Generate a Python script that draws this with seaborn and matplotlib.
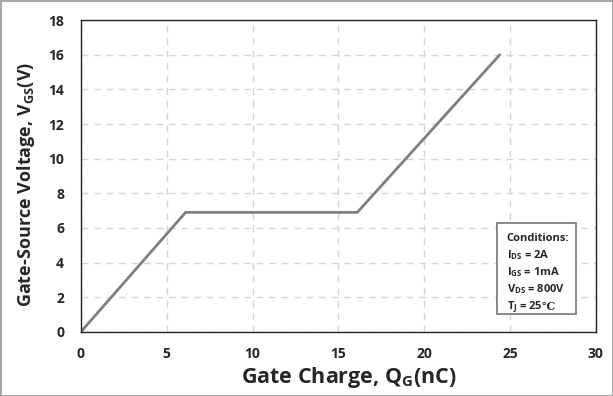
import matplotlib
matplotlib.use('Agg')
import matplotlib.pyplot as plt
from matplotlib.patches import Rectangle
import seaborn as sns
import pandas as pd

# Gate charge curve
gate_charge = [0.0, 6.1, 16.1, 24.4]
gate_voltage = [0.0, 6.9, 6.9, 16.0]
x_ticks = [0, 5, 10, 15, 20, 25, 30]
y_ticks = [0, 2, 4, 6, 8, 10, 12, 14, 16, 18]
conditions = ['Conditions:', 'I$_{\\mathrm{DS}}$ = 2A', 'I$_{\\mathrm{GS}}$ = 1mA',
              'V$_{\\mathrm{DS}}$ = 800V', 'T$_{\\mathrm{J}}$ = 25']
degree_sign = '\u2103'

sns.set_style('white')
plt.rcParams['font.family'] = ['Open Sans', 'DejaVu Sans']
plt.rcParams['font.weight'] = 'bold'
plt.rcParams['mathtext.fontset'] = 'custom'
plt.rcParams['mathtext.rm'] = 'Open Sans:bold'
plt.rcParams['mathtext.bf'] = 'Open Sans:bold'

df = pd.DataFrame({'Q': gate_charge, 'V': gate_voltage})

fig = plt.figure(figsize=(6.13, 3.96), dpi=100, edgecolor='#a6a6a6', linewidth=2)
ax = fig.add_axes([0.132, 0.162, 0.840, 0.787])

sns.lineplot(data=df, x='Q', y='V', color='#7f7f7f', linewidth=2, ax=ax, sort=False)

ax.set_xlim(0, 30)
ax.set_ylim(0, 18)
ax.set_xticks(x_ticks)
ax.set_yticks(y_ticks)
ax.tick_params(length=0, labelsize=10)
ax.tick_params(axis='x', pad=11)
ax.tick_params(axis='y', pad=12)
for lbl in ax.get_xticklabels() + ax.get_yticklabels():
    lbl.set_fontweight('bold')

ax.grid(True, linestyle=(0, (5, 4)), color='#d6d6d6', linewidth=1)
ax.set_axisbelow(True)
for sp in ax.spines.values():
    sp.set_color('#222222')
    sp.set_linewidth(1)

ax.set_xlabel('Gate Charge, Q$_{\\mathrm{G}}$(nC)', fontsize=15.5, fontweight='bold',
              labelpad=3, x=0.52)
ax.set_ylabel('Gate-Source Voltage, V$_{\\mathrm{GS}}$(V)', fontsize=13, fontweight='bold',
              labelpad=8, y=0.474)

# conditions box
ax.add_patch(Rectangle((0.808, 0.056), 0.153, 0.293, transform=ax.transAxes,
                       facecolor='white', edgecolor='#808080', linewidth=1.3, zorder=3))
lines = []
for i, s in enumerate(conditions):
    t = ax.text(0.8266, 0.2926 - i * 0.0554, s, transform=ax.transAxes,
                fontsize=8, fontweight='bold', va='baseline', ha='left', zorder=4)
    lines.append(t)

fig.canvas.draw()
bb = lines[-1].get_window_extent(fig.canvas.get_renderer())
x_end = ax.transAxes.inverted().transform((bb.x1 - 1, bb.y0))[0]
ax.text(x_end, 0.2926 - 4 * 0.0554, degree_sign, transform=ax.transAxes,
        fontsize=8, family='DejaVu Serif', va='baseline', ha='left', zorder=4)

fig.savefig('out.png', dpi=100)
